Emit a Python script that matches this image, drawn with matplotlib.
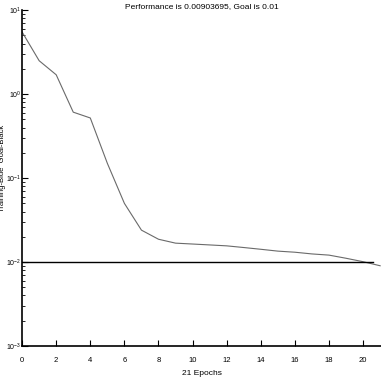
import numpy as np
import matplotlib.pyplot as plt

plt.rcParams['font.family'] = ['Liberation Sans', 'DejaVu Sans']

# training performance per epoch
epochs = list(range(22))
perf = [5.5, 2.5, 1.7, 0.61, 0.52, 0.15, 0.05, 0.024, 0.0187, 0.0168,
        0.0164, 0.016, 0.0156, 0.0149, 0.0142, 0.0135, 0.0131, 0.0125,
        0.0121, 0.0111, 0.0101, 0.00903695]
goal = 0.01
goal_epochs = [0, 20.6]

fig = plt.figure(figsize=(3.81, 3.91), dpi=100, facecolor='w')
ax = fig.add_axes([0.058, 0.115, 0.942, 0.859])
ax.semilogy(epochs, perf, color='#6a6a6a', lw=0.8)
ax.plot(goal_epochs, [goal, goal], color='k', lw=1.0)

ax.set_xlim(0, 21.05)
ax.set_ylim(1e-3, 1e1)
ax.set_xticks(range(0, 21, 2))
ax.spines['top'].set_visible(False)
ax.spines['right'].set_visible(False)
ax.spines['left'].set_linewidth(1.2)
ax.spines['bottom'].set_linewidth(1.2)
ax.tick_params(which='both', direction='in', labelsize=5.5)
ax.tick_params(axis='x', pad=8)
ax.tick_params(axis='y', pad=0.8, labelsize=5)
ax.tick_params(which='major', length=4)
ax.tick_params(which='minor', length=2)

ax.set_title('Performance is 0.00903695, Goal is 0.01', fontsize=6, pad=1.5)
ax.set_xlabel('21 Epochs', fontsize=6, labelpad=4)
ax.set_ylabel('Training-Blue  Goal-Black', fontsize=5.5)
ax.yaxis.set_label_coords(-0.045, 0.53)

plt.savefig('out.png', dpi=100)
